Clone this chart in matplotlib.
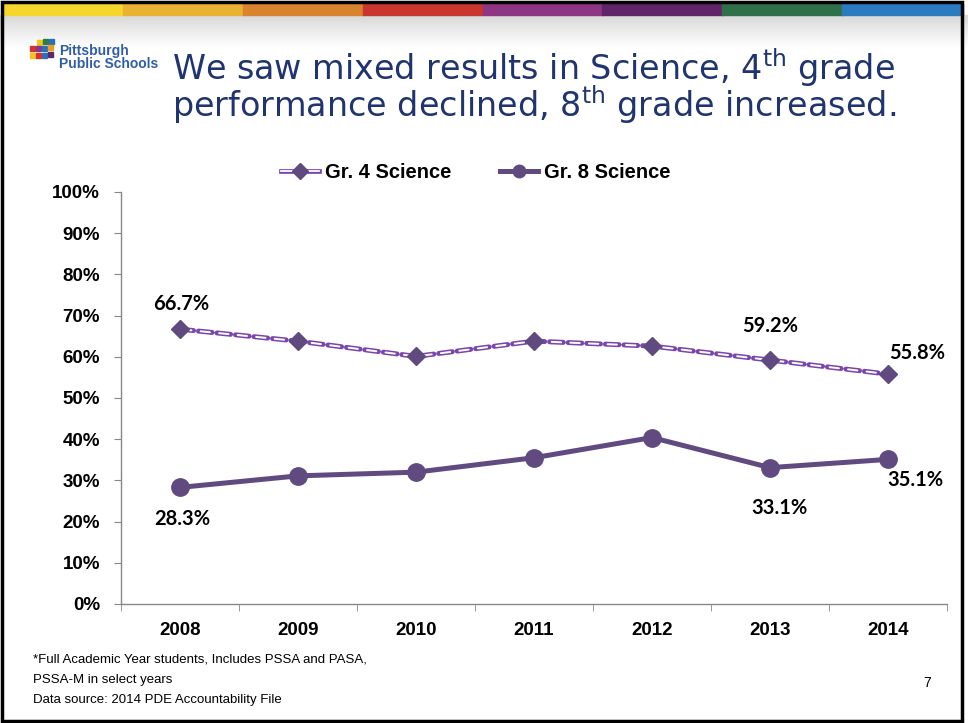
import matplotlib
matplotlib.use("Agg")
import matplotlib.pyplot as plt
from matplotlib.lines import Line2D
from matplotlib.patches import Rectangle
from matplotlib.legend_handler import HandlerTuple
import numpy as np

plt.rcParams['lines.scale_dashes'] = False

years = ["2008", "2009", "2010", "2011", "2012", "2013", "2014"]
gr4 = [66.7, 63.8, 60.1, 63.8, 62.6, 59.2, 55.8]
gr8 = [28.3, 31.1, 32.0, 35.5, 40.4, 33.1, 35.1]
yticks = [0, 10, 20, 30, 40, 50, 60, 70, 80, 90, 100]
band_colors = ["#F6D52C", "#EAB232", "#DA832F", "#C9362D", "#8E3584", "#5F2568", "#2F704A", "#2B7BC0"]

W, H = 968, 723
fig = plt.figure(figsize=(W / 100, H / 100), dpi=100)
fig.patch.set_facecolor("white")

# top grey shading
grad = np.linspace(0.85, 1.0, 40).reshape(-1, 1)
bg = fig.add_axes([0, 1 - 48 / H, 1, 33 / H])
bg.imshow(np.dstack([grad, grad, grad]), aspect="auto", extent=[0, 1, 0, 1])
bg.set_axis_off()

# colored band
n = len(band_colors)
for i, c in enumerate(band_colors):
    x0 = (3 + i * (959 / n)) / W
    fig.patches.append(Rectangle((x0, 1 - 15 / H), (959 / n) / W + 0.001, 11 / H,
                                 transform=fig.transFigure, color=c, zorder=2))
# slide border
fig.patches.append(Rectangle((2 / W, 2 / H), 960 / W, (H - 4) / H, transform=fig.transFigure,
                             fill=False, edgecolor="black", linewidth=2.5, zorder=3))

# logo (small coloured shapes)
logo_cols = ["#F6C21C", "#2E7C47", "#2B6FB5", "#D8312D", "#7E3A8E", "#2B6FB5", "#F09A1E",
             "#F6C21C", "#D8312D", "#2B6FB5", "#5F2568"]
pos = [(37, 40), (43, 39), (49, 39), (30, 46), (36, 46), (42, 46), (48, 45),
       (30, 53), (36, 53), (42, 53), (48, 52)]
for (px, py), c in zip(pos, logo_cols):
    fig.patches.append(Rectangle((px / W, 1 - (py + 5) / H), 5 / W, 5 / H,
                                 transform=fig.transFigure, color=c, zorder=4))
fig.text(59 / W, 1 - 68 / H, "Pittsburgh\nPublic Schools", fontsize=10, color="#2F5DA8",
         family="Liberation Sans", fontweight="bold", va="baseline", linespacing=0.95)

# title
tcol = "#1F3470"
fig.text(172 / W, 1 - 117 / H,
         "We saw mixed results in Science, 4$^{\\mathrm{th}}$ grade\n"
         "performance declined, 8$^{\\mathrm{th}}$ grade increased.",
         fontsize=24, color=tcol, family="DejaVu Sans", va="baseline", linespacing=0.84)

# axes
ax = fig.add_axes([121 / W, 119 / H, 826 / W, 412 / H])
x = np.arange(len(years))
ax.set_xlim(-0.5, len(years) - 0.5)
ax.set_ylim(0, 100)

line_col = "#7A45AD"
mk_col = "#604A80"
dash_out = (0, (9.8, 3.6))
dash_in = (-1.5, (6.8, 6.6))
ax.plot(x, gr4, color=line_col, lw=3.6, linestyle=dash_out, dash_capstyle="round", zorder=3)
ax.plot(x, gr4, color="white", lw=1.4, linestyle=dash_in, dash_capstyle="round", zorder=4)
ax.plot(x, gr4, linestyle="none", marker="D", markersize=9, color=mk_col, zorder=5)
ax.plot(x, gr8, color=mk_col, lw=3.6, marker="o", markersize=12.5, zorder=5)

lab_font = dict(family=["Lato", "DejaVu Sans"], fontweight="bold", fontsize=14.5, color="black")
gr4_lab = {0: (1, 18), 5: (0, 24.5), 6: (21, 15)}
gr8_lab = {0: (2, -23), 5: (7, -29), 6: (20, -15)}
for i, (dx, dy) in gr4_lab.items():
    ax.annotate(f"{gr4[i]:.1f}%", (x[i], gr4[i]), xytext=(dx, dy), textcoords="offset points",
                ha="center", va="center", **lab_font)
for i, (dx, dy) in gr8_lab.items():
    ax.annotate(f"{gr8[i]:.1f}%", (x[i], gr8[i]), xytext=(dx, dy), textcoords="offset points",
                ha="center", va="center", **lab_font)

ax.set_yticks(yticks)
ax.set_yticklabels([f"{v}%" for v in yticks])
ax.set_xticks(x)
ax.set_xticklabels(years)
ax.set_xticks(np.arange(-0.5, len(years)), minor=True)
ax.tick_params(axis="x", which="major", length=0, pad=13)
ax.tick_params(axis="x", which="minor", length=5, color="#888888", direction="out")
ax.tick_params(axis="y", length=5, color="#888888", pad=10)
for lab in ax.get_xticklabels() + ax.get_yticklabels():
    lab.set_family("Liberation Sans")
    lab.set_fontweight("bold")
    lab.set_fontsize(13.5)
for s in ["top", "right"]:
    ax.spines[s].set_visible(False)
for s in ["left", "bottom"]:
    ax.spines[s].set_color("#888888")
    ax.spines[s].set_linewidth(1)

# legend proxies
h4a = Line2D([], [], color=line_col, lw=3.4)
h4b = Line2D([], [], color="white", lw=1.3)
h4m = Line2D([], [], linestyle="none", marker="D", markersize=8, color=mk_col)
h8 = Line2D([], [], color=mk_col, lw=3.6, marker="o", markersize=9)
ax.legend([(h4a, h4b, h4m), h8], ["Gr. 4 Science", "Gr. 8 Science"],
          handler_map={tuple: HandlerTuple(ndivide=1, pad=0)},
          loc="center", bbox_to_anchor=(476 / W, 1 - 173 / H), bbox_transform=fig.transFigure,
          ncol=2, frameon=False, handlelength=1.9, columnspacing=2.4, handletextpad=0.3,
          prop=dict(family="Liberation Sans", weight="bold", size=14.5))

# footer
foot = dict(family=["Liberation Sans Narrow", "Liberation Sans"], fontsize=9.5, color="black", va="baseline")
fig.text(33 / W, 1 - 703 / H,
         "*Full Academic Year students, Includes PSSA and PASA,\nPSSA-M in select years\n"
         "Data source: 2014 PDE Accountability File", linespacing=1.9, **foot)
fig.text(927 / W, 1 - 687 / H, "7", family="Liberation Sans", fontsize=10, color="black", va="baseline",
         ha="center")

fig.savefig("out.png", dpi=100)
